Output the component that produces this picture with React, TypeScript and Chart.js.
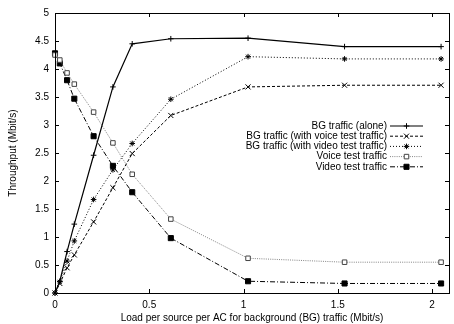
import React, { useEffect, useRef } from "react";
import { Chart, registerables } from "chart.js";

Chart.register(...registerables);

const xLoads = [0, 0.0256, 0.064, 0.1024, 0.2048, 0.3072, 0.4096, 0.6144, 1.024, 1.536, 2.048];
const bgAlone = [0, 0.21, 0.74, 1.23, 2.46, 3.68, 4.45, 4.54, 4.55, 4.4, 4.4];
const bgVoice = [0, 0.17, 0.45, 0.68, 1.27, 1.88, 2.49, 3.17, 3.68, 3.71, 3.71];
const bgVideo = [0, 0.2, 0.57, 0.93, 1.67, 2.2, 2.67, 3.46, 4.22, 4.18, 4.18];
const voiceTest = [4.25, 4.16, 3.93, 3.73, 3.23, 2.68, 2.12, 1.32, 0.62, 0.55, 0.55];
const videoTest = [4.28, 4.1, 3.8, 3.47, 2.8, 2.27, 1.8, 0.98, 0.21, 0.17, 0.17];

const seriesLabels = [
  "BG traffic (alone)",
  "BG traffic (with voice test traffic)",
  "BG traffic (with video test traffic)",
  "Voice test traffic",
  "Video test traffic",
];
const xTicks = [0, 0.5, 1, 1.5, 2];
const yTicks = [0, 0.5, 1, 1.5, 2, 2.5, 3, 3.5, 4, 4.5, 5];

const FONT = "'Liberation Sans', Arial, sans-serif";

const toPts = (ys: number[]) => ys.map((y, i) => ({ x: xLoads[i], y }));

const styles = [
  { color: "#000", dash: [] as number[], width: 1.2, point: "cross", radius: 2.8, fill: "#000" },
  { color: "#000", dash: [3, 2], width: 1, point: "crossRot", radius: 3.6, fill: "#000" },
  { color: "#000", dash: [1, 2], width: 1, point: "star", radius: 2.8, fill: "#000" },
  { color: "#777", dash: [1, 1.2], width: 0.9, point: "rect", radius: 3.2, fill: "#fff" },
  { color: "#000", dash: [5, 2, 1, 2], width: 1, point: "rect", radius: 3.6, fill: "#000" },
];

function drawMarker(ctx: CanvasRenderingContext2D, kind: string, x: number, y: number, r: number, stroke: string, fill: string) {
  ctx.save();
  ctx.setLineDash([]);
  ctx.lineWidth = 1;
  ctx.strokeStyle = stroke;
  ctx.fillStyle = fill;
  ctx.beginPath();
  if (kind === "cross") {
    ctx.moveTo(x - r, y); ctx.lineTo(x + r, y);
    ctx.moveTo(x, y - r); ctx.lineTo(x, y + r);
    ctx.stroke();
  } else if (kind === "crossRot") {
    const d = r * Math.SQRT1_2;
    ctx.moveTo(x - d, y - d); ctx.lineTo(x + d, y + d);
    ctx.moveTo(x - d, y + d); ctx.lineTo(x + d, y - d);
    ctx.stroke();
  } else if (kind === "star") {
    const d = r * Math.SQRT1_2;
    ctx.moveTo(x - r, y); ctx.lineTo(x + r, y);
    ctx.moveTo(x, y - r); ctx.lineTo(x, y + r);
    ctx.moveTo(x - d, y - d); ctx.lineTo(x + d, y + d);
    ctx.moveTo(x - d, y + d); ctx.lineTo(x + d, y - d);
    ctx.stroke();
  } else {
    const s = r * Math.SQRT1_2;
    ctx.rect(x - s, y - s, 2 * s, 2 * s);
    ctx.fill();
    ctx.stroke();
  }
  ctx.restore();
}

const framePlugin = {
  id: "gnuframe",
  afterDatasetsDraw(chart: any) {
    const { ctx, chartArea: a, scales } = chart;
    ctx.save();
    ctx.strokeStyle = "#000";
    ctx.lineWidth = 1;
    ctx.setLineDash([]);
    ctx.strokeRect(Math.round(a.left) + 0.5, Math.round(a.top) + 0.5, Math.round(a.right - a.left), Math.round(a.bottom - a.top));
    const tl = 4;
    ctx.beginPath();
    for (const v of xTicks) {
      const px = Math.round(scales.x.getPixelForValue(v)) + 0.5;
      ctx.moveTo(px, a.bottom); ctx.lineTo(px, a.bottom - tl);
      ctx.moveTo(px, a.top); ctx.lineTo(px, a.top + tl);
    }
    for (const v of yTicks) {
      const py = Math.round(scales.y.getPixelForValue(v)) + 0.5;
      ctx.moveTo(a.left, py); ctx.lineTo(a.left + tl, py);
      ctx.moveTo(a.right, py); ctx.lineTo(a.right - tl, py);
    }
    ctx.stroke();

    // legend
    ctx.font = `10px ${FONT}`;
    ctx.textAlign = "right";
    ctx.textBaseline = "middle";
    ctx.fillStyle = "#000";
    const textRight = a.right - 62;
    const lineL = a.right - 59;
    const lineR = a.right - 26;
    seriesLabels.forEach((lab, i) => {
      const y = a.top + 113 + i * 10.2;
      ctx.fillText(lab, textRight, y);
      const st = styles[i];
      ctx.save();
      ctx.strokeStyle = st.color;
      ctx.lineWidth = st.width;
      ctx.setLineDash(st.dash);
      ctx.beginPath();
      ctx.moveTo(lineL, y);
      ctx.lineTo(lineR, y);
      ctx.stroke();
      ctx.restore();
      drawMarker(ctx, st.point, (lineL + lineR) / 2, y, st.radius, st.color === "#777" ? "#444" : "#000", st.fill);
    });
    ctx.restore();
  },
};

export default function App() {
  const ref = useRef<HTMLCanvasElement | null>(null);
  useEffect(() => {
    if (!ref.current) return;
    const series = [bgAlone, bgVoice, bgVideo, voiceTest, videoTest];
    const chart = new Chart(ref.current, {
      type: "line",
      data: {
        datasets: series.map((ys, i) => ({
          label: seriesLabels[i],
          data: toPts(ys),
          borderColor: styles[i].color,
          borderWidth: styles[i].width,
          borderDash: styles[i].dash,
          pointStyle: styles[i].point as any,
          pointRadius: styles[i].radius,
          pointBorderColor: styles[i].color === "#777" ? "#444" : "#000",
          pointBackgroundColor: styles[i].fill,
          pointBorderWidth: 1,
          tension: 0,
          fill: false,
          clip: false as any,
        })),
      },
      options: {
        responsive: false,
        animation: false,
        events: [],
        layout: { padding: { top: 13, right: 1, left: 0, bottom: 0 } },
        plugins: { legend: { display: false }, tooltip: { enabled: false } },
        scales: {
          x: {
            type: "linear",
            min: 0,
            max: 2.09,
            afterFit: (s: any) => { s.height = 31; },
            afterBuildTicks: (s: any) => { s.ticks = xTicks.map((v) => ({ value: v })); },
            grid: { display: false, drawTicks: false },
            border: { display: false },
            ticks: { color: "#000", font: { family: FONT, size: 10 }, padding: 6, maxRotation: 0, callback: (v: any) => String(v) },
            title: { display: true, text: "Load per source per AC for background (BG) traffic (Mbit/s)", color: "#000", font: { family: FONT, size: 10 }, padding: { top: 0, bottom: 0 } },
          },
          y: {
            type: "linear",
            min: 0,
            max: 5,
            afterFit: (s: any) => { s.width = 55; },
            afterBuildTicks: (s: any) => { s.ticks = yTicks.map((v) => ({ value: v })); },
            grid: { display: false, drawTicks: false },
            border: { display: false },
            ticks: { color: "#000", font: { family: FONT, size: 10 }, padding: 6, callback: (v: any) => String(v) },
            title: { display: true, text: "Throughput (Mbit/s)", color: "#000", font: { family: FONT, size: 10 }, padding: { top: 7, bottom: 0 } },
          },
        },
      },
      plugins: [framePlugin],
    });
    return () => chart.destroy();
  }, []);
  return (
    <div style={{ position: "absolute", left: 0, top: 0, width: 454, height: 324, background: "#fff" }}>
      <canvas ref={ref} width={454} height={324} style={{ display: "block" }} />
    </div>
  );
}
